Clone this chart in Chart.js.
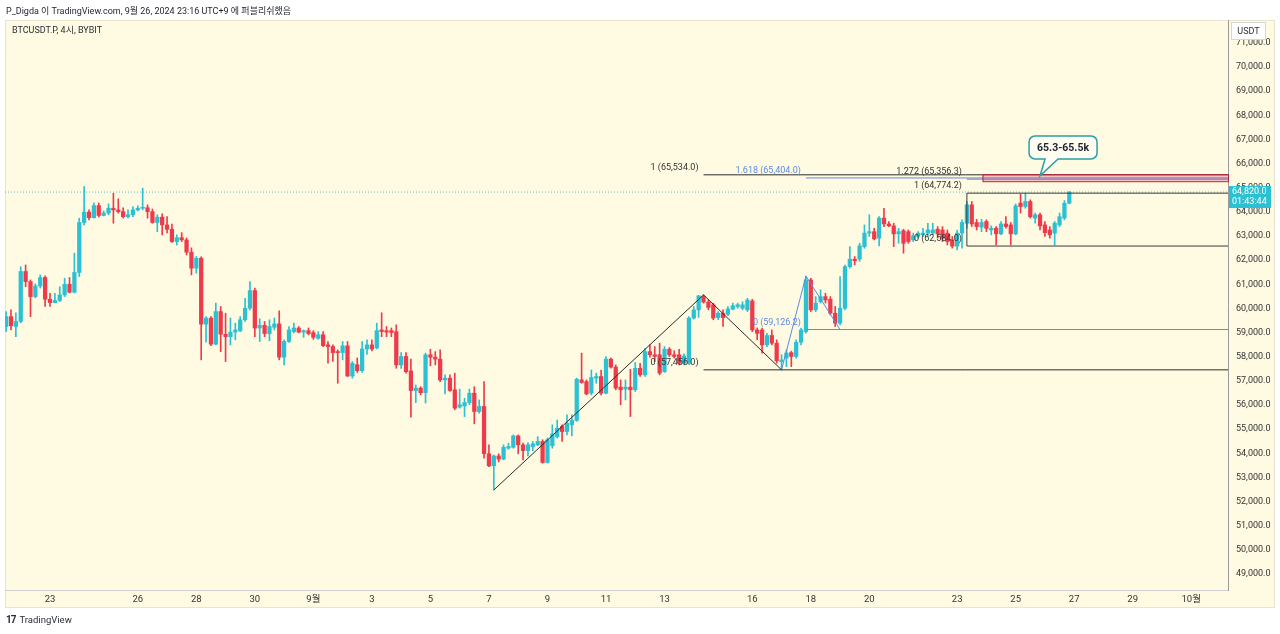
<!DOCTYPE html>
<html lang="ko">
<head>
<meta charset="utf-8">
<title>BTCUSDT.P, 4시, BYBIT</title>
<script src="https://cdn.jsdelivr.net/npm/chart.js@4.4.1/dist/chart.umd.min.js"></script>
<style>
  html, body { margin: 0; padding: 0; background: #fff; }
  #wrap { position: relative; width: 1280px; height: 634px; overflow: hidden; }
  #chart { position: absolute; left: 0; top: 0; }
  .txt { position: absolute; font-family: Roboto, 'Noto Sans CJK KR', sans-serif; color: #1e222d; white-space: nowrap; }
  #header { left: 6px; top: 4px; font-size: 9px; }
  #symbol { left: 12px; top: 23px; font-size: 9px; color: #2a2e39; }
  #footer { left: 6px; top: 614px; font-size: 9.5px; color: #2a2e39; }
  #footer b { font-size: 10px; letter-spacing: -1px; margin-right: 4px; }
</style>
</head>
<body>
<div id="wrap">
  <canvas id="chart" width="1280" height="634"></canvas>
  <div class="txt" id="header">P_Digda 이 TradingView.com, 9월 26, 2024 23:16 UTC+9 에 퍼블리쉬했음</div>
  <div class="txt" id="symbol">BTCUSDT.P, 4시, BYBIT</div>
  <div class="txt" id="footer"><b>17</b>TradingView</div>
</div>
<script>
// ── 4h candles, first one is index -9 (index 0 = 23 Aug 01:00) ─────────────
const firstIndex = -9;

const opens = [
  59250, 59660, 59250, 59460, 61530, 61110, 60490, 60930, 61280, 60380,
  60240, 60330, 60560, 61000, 60670, 61490, 63560, 63990, 63760, 64260,
  63850, 63950, 64150, 64080, 64010, 63800, 63880, 64080, 64150, 64170,
  64010, 63560, 63780, 63460, 63280, 62770, 62930, 62840, 62330, 61670,
  62080, 59350, 59600, 58520, 59870, 58930, 58830, 59020, 59070, 59530,
  60010, 60740, 59190, 59300, 58960, 59220, 59360, 57980, 58630, 59040,
  59190, 59020, 59080, 59000, 58760, 58910, 58490, 58420, 58210, 58170,
  58450, 57200, 57670, 57420, 58320, 58490, 58360, 59110, 59080, 59080,
  59040, 57660, 58010, 57410, 56600, 56700, 56510, 58080, 57980, 57900,
  57040, 57110, 56630, 55910, 55960, 56100, 56490, 55730, 55940, 53980,
  53480, 53890, 53760, 54210, 54250, 54720, 54350, 54110, 54280, 54350,
  54490, 53620, 54310, 54690, 55110, 54900, 55180, 55360, 57040, 56970,
  56490, 57110, 57180, 56490, 57900, 57570, 56740, 56660, 56740, 56630,
  57520, 57250, 58210, 58080, 58080, 57380, 58310, 58080, 58080, 57730,
  57730, 59600, 59940, 60490, 60260, 60150, 59620, 59800, 59760, 59970,
  60080, 60010, 59940, 60310, 59110, 59110, 58490, 58880, 58560, 57800,
  57940, 58170, 58010, 58600, 59040, 61180, 59940, 60280, 60490, 60380,
  59800, 59390, 60010, 61730, 62040, 62040, 62560, 63120, 63180, 62910,
  63740, 63500, 63420, 63090, 63220, 63180, 62840, 62980, 63050, 63120,
  63120, 63280, 63250, 63120, 62840, 62580, 63120, 63530, 64290, 63560,
  63370, 63600, 63250, 63320, 63090, 63500, 63460, 63090, 64360, 64220,
  64430, 63740, 63880, 63460, 63250, 63120, 63460, 63740, 64360
];

const highs = [
  59870, 59940, 59820, 61730, 61800, 61180, 61020, 61390, 61350, 60630,
  60630, 60900, 61250, 61280, 62290, 63740, 65050, 64080, 64370, 64370,
  64040, 64330, 64770, 64540, 64170, 64080, 64220, 64250, 64980, 64290,
  64120, 63880, 63920, 63800, 63490, 63050, 63140, 62920, 62510, 62150,
  62140, 59660, 59660, 60220, 60080, 59800, 59600, 59390, 59660, 60420,
  61110, 60840, 59570, 59460, 59530, 59600, 59900, 58700, 59250, 59390,
  59250, 59110, 59190, 59080, 59040, 59040, 58630, 58490, 58280, 58630,
  58630, 57800, 57950, 58630, 58700, 58700, 59390, 59820, 59250, 59190,
  59320, 58170, 58170, 57900, 56830, 56760, 58150, 58310, 58210, 58280,
  57250, 57250, 57320, 56660, 56280, 56660, 56760, 56210, 56970, 54350,
  53930, 53980, 54350, 54420, 54760, 54760, 54420, 54440, 54490, 54690,
  54560, 54630, 55180, 55380, 55180, 55590, 55590, 57110, 58150, 57040,
  57450, 57320, 57450, 58010, 57940, 57660, 57040, 57040, 57480, 57760,
  57730, 58350, 58490, 58420, 58560, 58420, 58380, 58250, 58310, 58120,
  59660, 60080, 60540, 60560, 60350, 60220, 59870, 59940, 60080, 60220,
  60220, 60280, 60420, 60380, 59190, 59190, 58970, 59110, 58700, 58080,
  58280, 58230, 58700, 59190, 61340, 61250, 60490, 60770, 60630, 60490,
  60080, 61320, 61800, 62560, 62150, 62700, 63460, 63880, 63320, 63800,
  64150, 63600, 63530, 63320, 63280, 63250, 63120, 63180, 63320, 63530,
  63530, 63390, 63390, 63250, 62980, 63250, 63670, 64430, 64430, 63690,
  63690, 63670, 63420, 63390, 63600, 63800, 63560, 64330, 64740, 64774.2,
  64500, 63950, 63950, 63600, 63390, 63600, 63950, 64470, 64840
];

const lows = [
  59040, 59110, 58830, 59400, 60900, 59660, 60440, 60840, 60080, 60080,
  60230, 60280, 60490, 60640, 60640, 61320, 63460, 63670, 63740, 63790,
  63830, 63880, 63530, 63950, 63750, 63750, 63800, 64040, 64080, 63740,
  63530, 63180, 63050, 63130, 62730, 62630, 62770, 62220, 61390, 61460,
  57870, 58600, 58460, 58490, 58210, 57800, 58490, 58700, 59040, 59460,
  59940, 58830, 58630, 58830, 58660, 59110, 57870, 57660, 58590, 58990,
  58990, 58800, 58910, 58720, 58720, 58420, 57730, 57800, 56900, 57870,
  57180, 57110, 57350, 57350, 58100, 58240, 58320, 58830, 58830, 58830,
  57520, 57520, 57320, 55500, 56100, 56420, 56080, 57620, 57660, 56970,
  56460, 56560, 55800, 55870, 55520, 56010, 55220, 55660, 53800, 53450,
  52480, 53640, 53730, 54170, 54210, 53980, 53730, 53890, 54110, 54310,
  53590, 53590, 54210, 54630, 54490, 54760, 54720, 55320, 56900, 56420,
  56420, 56900, 56420, 56460, 57530, 56630, 56010, 56210, 55520, 56560,
  57180, 57180, 57980, 57800, 57250, 57350, 58010, 57940, 57660, 57660,
  57700, 59560, 59630, 60220, 59940, 59530, 59530, 59250, 59700, 59940,
  60010, 59940, 59870, 59040, 58700, 58150, 58420, 58490, 57730, 57456,
  57590, 57590, 57940, 58490, 58970, 59870, 59870, 60220, 60220, 59730,
  59250, 59320, 59940, 61670, 61800, 61950, 62490, 62980, 62840, 62590,
  63390, 63390, 62560, 62700, 62290, 62700, 62770, 62910, 62980, 62980,
  63050, 62910, 62770, 62630, 62500, 62420, 62500, 63320, 63390, 63250,
  63180, 63180, 63050, 62630, 63050, 63320, 62630, 63050, 63950, 64150,
  63740, 63530, 63250, 62980, 62910, 62630, 63390, 63670, 64330
];

const closes = [
  59660, 59280, 59460, 61530, 61110, 60490, 60930, 61280, 60380, 60240,
  60330, 60560, 61000, 60670, 61490, 63560, 63990, 63760, 64260, 63850,
  63950, 64150, 64080, 64010, 63800, 63880, 64080, 64150, 64170, 64010,
  63560, 63780, 63460, 63280, 62770, 62930, 62840, 62330, 61670, 62080,
  59350, 59600, 58520, 59870, 58930, 58830, 59020, 59110, 59530, 60010,
  60740, 59190, 59300, 58960, 59250, 59360, 57980, 58630, 59110, 59190,
  59020, 59080, 58960, 58800, 58910, 58460, 58420, 58170, 58170, 58450,
  57200, 57730, 57420, 58320, 58490, 58320, 59080, 59040, 59020, 59000,
  57660, 58010, 57380, 56600, 56700, 56510, 58080, 57980, 57900, 57040,
  57110, 56600, 55870, 56010, 56100, 56490, 55730, 55940, 53980, 53480,
  53890, 53760, 54250, 54280, 54720, 54350, 54110, 54350, 54390, 54490,
  53620, 54560, 54800, 55040, 54900, 55250, 55360, 57070, 56930, 56460,
  57140, 57180, 56490, 57900, 57570, 56700, 56630, 56740, 56630, 57520,
  57250, 58210, 58080, 58010, 57320, 58310, 58080, 58010, 57730, 58030,
  59600, 59940, 60520, 60260, 60040, 59600, 59800, 59620, 59980, 60110,
  60150, 60150, 60350, 59110, 58970, 58490, 58880, 58560, 57830, 57870,
  58150, 58010, 58600, 59110, 61180, 59940, 60220, 60490, 60350, 59800,
  59390, 60010, 61730, 62040, 61980, 62590, 63120, 63180, 62880, 63740,
  63500, 63420, 63090, 63180, 62700, 62770, 63010, 63120, 63120, 63250,
  63250, 63090, 62910, 62770, 62580, 63120, 63560, 64290, 63500, 63390,
  63560, 63320, 63320, 63090, 63500, 63390, 63090, 64250, 64220, 64430,
  63800, 63880, 63420, 63140, 63050, 63530, 63800, 64360, 64820
];

// ── Axis ticks ──────────────────────────────────────────────────────────────
const xTickPos    = [0, 18, 30, 42, 54, 66, 78, 90, 102, 114, 126, 144, 156, 168, 186, 198, 210, 222, 234];
const xTickLabels = ['23', '26', '28', '30', '9월', '3', '5', '7', '9', '11', '13', '16', '18', '20', '23', '25', '27', '29', '10월'];
const yTickValues = [49000, 50000, 51000, 52000, 53000, 54000, 55000, 56000, 57000, 58000, 59000,
                     60000, 61000, 62000, 63000, 64000, 65000, 66000, 67000, 68000, 69000, 70000, 71000];

// ── Drawings (anchor = [candle index, price]) ───────────────────────────────
const blackTrend = [[91, 52480], [134, 60560], [150, 57456]];
const blueTrend  = [[150, 57456], [155, 61340], [162, 59126.2]];
const blackLevelStart = 134;
const blackLevels = [65534.0, 57456.0];
const blackLabels = ['1 (65,534.0)', '0 (57,456.0)'];
const blueLevelStart = 155;
const blueLevels = [65404.0, 59126.2];
const blueLabels = ['1.618 (65,404.0)', '0 (59,126.2)'];
const rangeStart = 188;
const rangeLevels = [65356.3, 64774.2, 62584.0];
const rangeLabels = ['1.272 (65,356.3)', '1 (64,774.2)', '0 (62,584.0)'];
const zoneFrom = 191.2;
const zonePrices = [65270, 65560];
const calloutAt = [203, 65490];
const calloutText = '65.3-65.5k';
const lastPrice = 64820;
const countdown = '01:43:44';

// ── Look ────────────────────────────────────────────────────────────────────
const UP    = '#2cc0d3';
const DOWN  = '#ef3a4b';
const PANEL = '#fffbe3';
const INK   = '#333333';
const BLUE  = '#5b8be0';
const FONT  = "Roboto, 'Noto Sans CJK KR', sans-serif";

const xMin = -9.227, xMax = 241.54;
const yMin = 48337, yMax = 71947;

const isUp = k => closes[k] >= opens[k];
const candleColor = ctx => isUp(ctx.dataIndex) ? UP : DOWN;

const bodies = opens.map((o, k) => ({ x: firstIndex + k, y: [o, closes[k]] }));
const wicks  = lows.map((l, k) => ({ x: firstIndex + k, y: [l, highs[k]] }));

const pts = arr => arr.map(p => ({ x: p[0], y: p[1] }));
function lineDs(data, color, extra) {
  return Object.assign({
    type: 'line', data, borderColor: color, borderWidth: 1,
    pointRadius: 0, fill: false, tension: 0, order: 0
  }, extra || {});
}
const hLine = (start, price, color) => lineDs([{ x: start, y: price }, { x: xMax, y: price }], color);

const datasets = [
  { data: wicks,  backgroundColor: candleColor, barThickness: 1,   grouped: false, minBarLength: 1, order: 2 },
  { data: bodies, backgroundColor: candleColor, barThickness: 3.6, grouped: false, minBarLength: 1, order: 1 },
  lineDs([{ x: xMin, y: lastPrice }, { x: xMax, y: lastPrice }], 'rgba(38,170,190,0.75)', { borderDash: [1, 2], order: 3 }),
  lineDs(pts(blackTrend), '#2b2b2b'),
  lineDs(pts(blueTrend), BLUE),
  ...blackLevels.map(p => hLine(blackLevelStart, p, '#2b2b2b')),
  ...blueLevels.map(p => hLine(blueLevelStart, p, BLUE)),
  hLine(rangeStart, rangeLevels[0], '#7a7a7a'),
  hLine(rangeStart, rangeLevels[1], '#3a3a3a'),
  hLine(rangeStart, rangeLevels[2], '#3a3a3a'),
  lineDs([{ x: rangeStart, y: rangeLevels[2] }, { x: rangeStart, y: rangeLevels[1] }], '#3a3a3a')
];

function labelsAt(c, xs, ys, start, prices, labels, color) {
  const x = xs.getPixelForValue(start) - 5;
  c.fillStyle = color;
  c.textAlign = 'right';
  c.textBaseline = 'alphabetic';
  prices.forEach((p, k) => c.fillText(labels[k], x, ys.getPixelForValue(p) - 5));
}

const drawings = {
  id: 'drawings',
  beforeDraw(chart) {
    const c = chart.ctx;
    c.save();
    c.fillStyle = '#ffffff';
    c.fillRect(0, 0, chart.width, chart.height);
    c.fillStyle = PANEL;
    c.fillRect(5, 20, 1270, 588);
    c.strokeStyle = '#e8e4cf';
    c.strokeRect(5.5, 20.5, 1269, 587);
    c.restore();
  },
  afterDatasetsDraw(chart) {
    const c = chart.ctx, xs = chart.scales.x, ys = chart.scales.y, area = chart.chartArea;
    c.save();
    c.font = '9px ' + FONT;
    labelsAt(c, xs, ys, blackLevelStart, blackLevels, blackLabels, INK);
    labelsAt(c, xs, ys, blueLevelStart, blueLevels, blueLabels, BLUE);
    labelsAt(c, xs, ys, rangeStart, rangeLevels, rangeLabels, INK);

    // target zone
    const zx = xs.getPixelForValue(zoneFrom);
    const zt = ys.getPixelForValue(zonePrices[1]), zb = ys.getPixelForValue(zonePrices[0]);
    c.fillStyle = 'rgba(214, 70, 120, 0.32)';
    c.fillRect(zx, zt, area.right - zx, zb - zt);
    c.strokeStyle = '#b3243f';
    c.lineWidth = 1;
    c.strokeRect(zx + 0.5, zt + 0.5, area.right - zx, zb - zt);

    // callout
    const tx = xs.getPixelForValue(calloutAt[0]), ty = ys.getPixelForValue(calloutAt[1]);
    const bx = tx - 11, by = ty - 40, bw = 68, bh = 23, r = 6;
    c.beginPath();
    c.moveTo(bx + r, by);
    c.lineTo(bx + bw - r, by);
    c.arcTo(bx + bw, by, bx + bw, by + r, r);
    c.lineTo(bx + bw, by + bh - r);
    c.arcTo(bx + bw, by + bh, bx + bw - r, by + bh, r);
    c.lineTo(tx + 18, by + bh);
    c.lineTo(tx, ty);
    c.lineTo(tx + 5, by + bh);
    c.lineTo(bx + r, by + bh);
    c.arcTo(bx, by + bh, bx, by + bh - r, r);
    c.lineTo(bx, by + r);
    c.arcTo(bx, by, bx + r, by, r);
    c.closePath();
    c.fillStyle = '#fffdf2';
    c.fill();
    c.strokeStyle = '#2a9fa6';
    c.lineWidth = 1.5;
    c.stroke();
    c.fillStyle = '#1e222d';
    c.font = 'bold 10.5px ' + FONT;
    c.textAlign = 'center';
    c.textBaseline = 'middle';
    c.fillText(calloutText, bx + bw / 2, by + bh / 2 + 0.5);
    c.restore();
  },
  afterDraw(chart) {
    const c = chart.ctx, ys = chart.scales.y, area = chart.chartArea;
    const py = ys.getPixelForValue(lastPrice);
    c.save();
    c.fillStyle = UP;
    c.fillRect(area.right + 1, py - 6, 42, 22);
    c.fillStyle = '#ffffff';
    c.font = '9px ' + FONT;
    c.textAlign = 'left';
    c.textBaseline = 'middle';
    c.fillText(lastPrice.toLocaleString('en-US', { minimumFractionDigits: 1 }), area.right + 4, py);
    c.fillText(countdown, area.right + 4, py + 10);

    c.fillStyle = '#ffffff';
    c.fillRect(1231, 22, 35, 18);
    c.strokeStyle = '#d6d6d6';
    c.strokeRect(1231.5, 22.5, 34, 17);
    c.fillStyle = '#2a2e39';
    c.textAlign = 'center';
    c.fillText('USDT', 1248.5, 31.5);
    c.restore();
  }
};

new Chart(document.getElementById('chart'), {
  type: 'bar',
  data: { datasets },
  plugins: [drawings],
  options: {
    responsive: false,
    animation: false,
    events: [],
    layout: { padding: { left: 5, top: 20, right: 5, bottom: 26 } },
    plugins: { legend: { display: false }, tooltip: { enabled: false } },
    scales: {
      x: {
        type: 'linear', min: xMin, max: xMax, offset: false,
        grid: { display: false, drawTicks: false },
        border: { display: true, color: '#cfcfcf' },
        afterBuildTicks: s => { s.ticks = xTickPos.map(v => ({ value: v })); },
        afterFit: s => { s.height = 18; },
        ticks: {
          autoSkip: false, maxRotation: 0, padding: 4, color: INK,
          font: { family: FONT, size: 9.5 },
          callback: v => xTickLabels[xTickPos.indexOf(v)] || ''
        }
      },
      y: {
        type: 'linear', position: 'right', min: yMin, max: yMax,
        grid: { display: false, drawTicks: false },
        border: { display: true, color: '#9a9a9a' },
        afterBuildTicks: s => { s.ticks = yTickValues.map(v => ({ value: v })); },
        afterFit: s => { s.width = 47; },
        ticks: {
          autoSkip: false, padding: 8, color: INK,
          font: { family: FONT, size: 9 },
          callback: v => v.toLocaleString('en-US', { minimumFractionDigits: 1, maximumFractionDigits: 1 })
        }
      }
    }
  }
});
</script>
</body>
</html>
